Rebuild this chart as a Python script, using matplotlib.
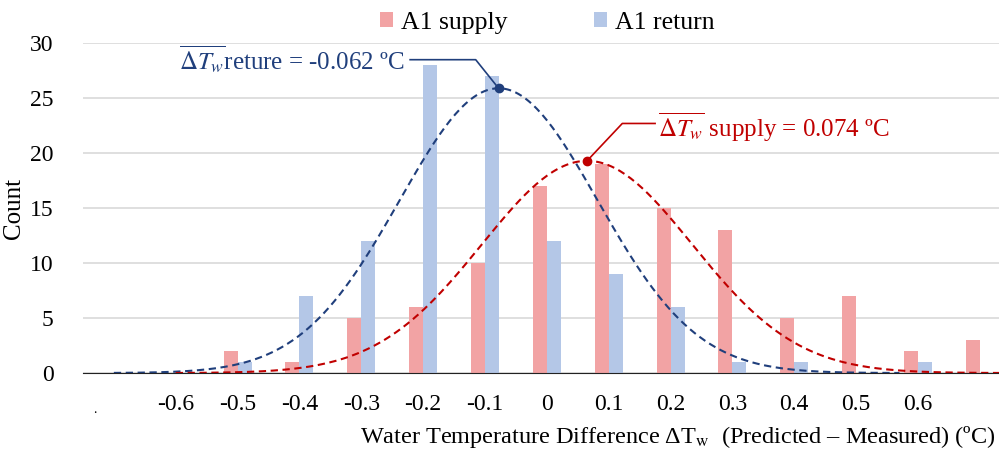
import numpy as np
import matplotlib.pyplot as plt

plt.rcParams['font.family'] = ['Liberation Serif', 'DejaVu Serif']
plt.rcParams['mathtext.fontset'] = 'stix'

# histogram bins (degC) and counts
bins = [-0.7, -0.6, -0.5, -0.4, -0.3, -0.2, -0.1, 0.0, 0.1, 0.2, 0.3, 0.4, 0.5, 0.6, 0.7]
supply = [0, 0, 2, 1, 5, 6, 10, 17, 19, 15, 13, 5, 7, 2, 3]
ret = [0, 0, 1, 7, 12, 28, 27, 12, 9, 6, 1, 1, 0, 1, 0]
tick_vals = [-0.6, -0.5, -0.4, -0.3, -0.2, -0.1, 0, 0.1, 0.2, 0.3, 0.4, 0.5, 0.6]
tick_labels = ['-0.6', '-0.5', '-0.4', '-0.3', '-0.2', '-0.1', '0', '0.1', '0.2', '0.3', '0.4', '0.5', '0.6']

# fitted normal curves (centre, sigma, peak height, x range) as drawn
sup_fit = dict(mu=0.065, sigma=0.17, peak=19.3, x0=-0.60, x1=0.75)
ret_fit = dict(mu=-0.078, sigma=0.16, peak=25.9, x0=-0.70, x1=0.57)

red = '#f2a3a4'
blue = '#b4c7e7'
red_line = '#c00000'
blue_line = '#203f7c'

fig = plt.figure(figsize=(9.99, 4.5), dpi=100)
ax = fig.add_axes([0.083, 0.171, 0.917, 0.733])

w = 0.0227
b = np.array(bins)
ax.bar(b - w / 2, supply, width=w, color=red, label='A1 supply', zorder=2)
ax.bar(b + w / 2, ret, width=w, color=blue, label='A1 return', zorder=2)


def curve(f):
    x = np.linspace(f['x0'], f['x1'], 300)
    return x, f['peak'] * np.exp(-(x - f['mu']) ** 2 / (2 * f['sigma'] ** 2))


xr, yr = curve(ret_fit)
ax.plot(xr, yr, '--', color=blue_line, lw=1.5, dashes=(3.5, 2.2), zorder=3)
xs, ys = curve(sup_fit)
ax.plot(xs, ys, '--', color=red_line, lw=1.5, dashes=(3.5, 2.2), zorder=3)

ax.plot(ret_fit['mu'], ret_fit['peak'], 'o', color=blue_line, ms=6, zorder=4)
ax.plot(sup_fit['mu'], sup_fit['peak'], 'o', color=red_line, ms=6, zorder=4)

# annotation leader lines
ax.plot([-0.221, -0.115, ret_fit['mu']], [28.5, 28.5, ret_fit['peak']], color=blue_line, lw=1.2, zorder=4)
ax.plot([0.175, 0.122, sup_fit['mu']], [22.7, 22.7, sup_fit['peak']], color=red_line, lw=1.2, zorder=4)
ax.text(-0.230, 28.5, r'$\overline{\Delta T_w}$reture = -0.062 ºC', color=blue_line,
        fontsize=18, ha='right', va='center')
ax.text(0.180, 22.3, r'$\overline{\Delta T_w}$ supply = 0.074 ºC', color=red_line,
        fontsize=18, ha='left', va='center')

ax.set_xlim(-0.75, 0.731)
ax.set_ylim(0, 30)
ax.set_yticks(range(0, 31, 5))
ax.set_xticks(tick_vals)
ax.set_xticklabels(tick_labels)
ax.tick_params(axis='both', length=0, labelsize=17)
ax.tick_params(axis='x', pad=15)
ax.tick_params(axis='y', pad=21)
ax.text(-0.73, -3.6, '.', fontsize=10, ha='center')
ax.grid(axis='y', color='#d9d9d9', lw=1.2, zorder=0)
for s in ['top', 'right', 'left']:
    ax.spines[s].set_visible(False)
ax.spines['bottom'].set_color('#222222')
ax.spines['bottom'].set_zorder(5)

ax.set_ylabel('Count', fontsize=18, labelpad=4)
fig.text(0.997, 0.03, r'Water Temperature Difference ΔT$_\mathrm{w}$  (Predicted – Measured) (ºC)',
         fontsize=17.5, ha='right', va='center')

ax.legend(loc='upper center', bbox_to_anchor=(0.507, 1.165), ncol=2, frameon=False,
          fontsize=18.5, handlelength=0.5, handleheight=0.5, columnspacing=3.4, handletextpad=0.3)

fig.savefig('out.png', dpi=100)
